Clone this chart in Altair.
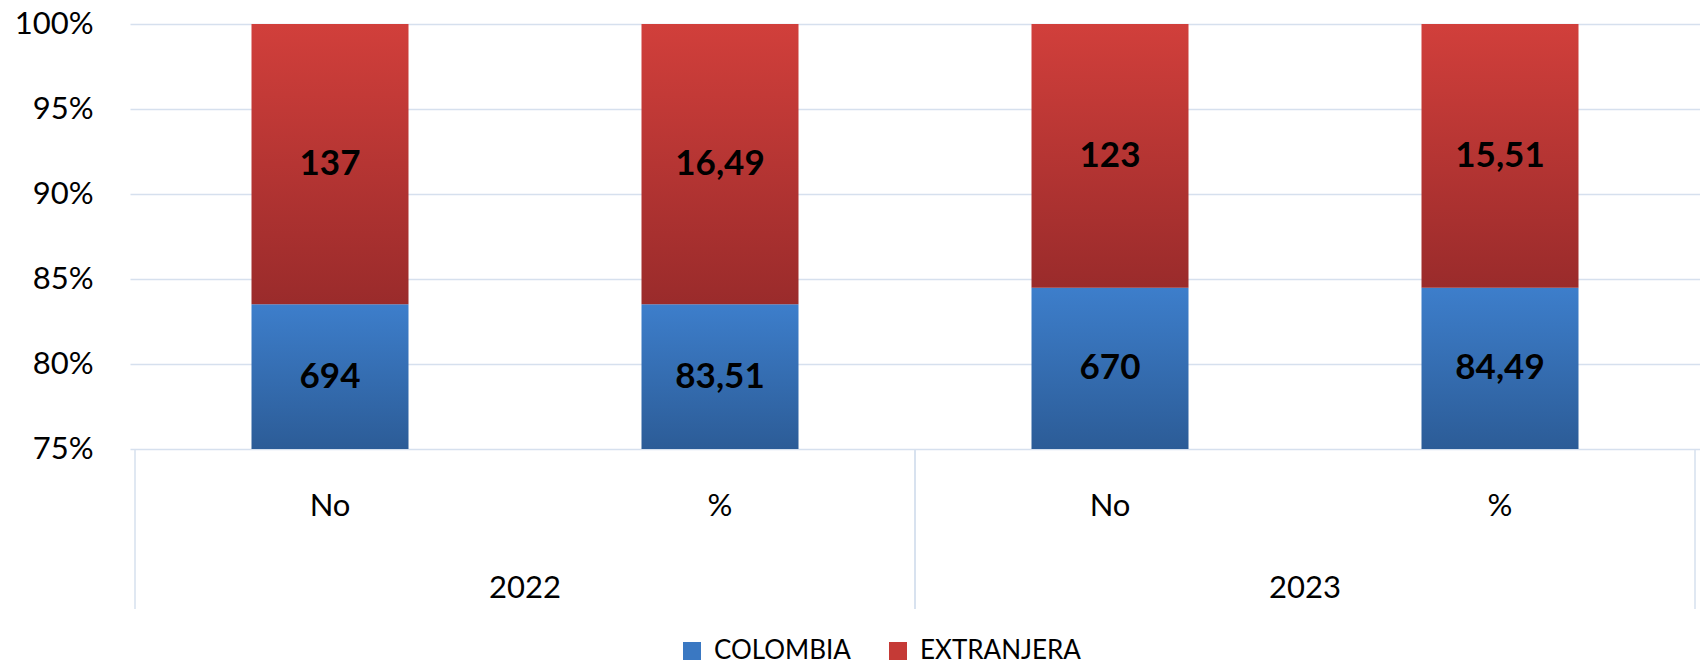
import altair as alt
import pandas as pd

years = ["2022", "2022", "2023", "2023"]
measures = ["No", "%", "No", "%"]
colombia = [694, 83.51, 670, 84.49]
extranjera = [137, 16.49, 123, 15.51]
series_names = ["COLOMBIA", "EXTRANJERA"]
y_ticks = [75, 80, 85, 90, 95, 100]

df = pd.DataFrame({"year": years, "measure": measures,
                   "colombia": colombia, "extranjera": extranjera})

FONT = "Lato"
GRID = "#D6E0EE"
BLUE_TOP, BLUE_BOT = "#3D7ECB", "#2C5C97"
RED_TOP, RED_BOT = "#D13F3B", "#9A2B2B"

n = len(years)
xscale = alt.Scale(domain=[0, n], nice=False, zero=False)
yscale = alt.Scale(domain=[75, 100], nice=False, zero=False, clamp=True)

base = alt.Chart(df).transform_window(
    idx="row_number()"
).transform_calculate(
    center="datum.idx - 0.5",
    total="datum.colombia + datum.extranjera",
    pc="100 * datum.colombia / datum.total",
    yc="(75 + datum.pc) / 2",
    ye="(datum.pc + 100) / 2",
    lab_c="datum.measure == '%' ? replace(format(datum.colombia, '.2f'), '.', ',') : format(datum.colombia, 'd')",
    lab_e="datum.measure == '%' ? replace(format(datum.extranjera, '.2f'), '.', ',') : format(datum.extranjera, 'd')",
)

X = alt.X("center:Q", scale=xscale, axis=None)

def grad(top, bot):
    return alt.Gradient(gradient="linear", x1=0, x2=0, y1=0, y2=1,
                        stops=[alt.GradientStop(color=top, offset=0),
                               alt.GradientStop(color=bot, offset=1)])

yaxis = alt.Axis(values=y_ticks, labelExpr="datum.value + '%'", grid=True,
                 gridColor=GRID, gridWidth=1.5, domain=False, ticks=False,
                 labelFont=FONT, labelFontSize=31, labelColor="black",
                 labelPadding=37, minExtent=122, title=None)

bar_c = base.mark_bar(width=157, color=grad(BLUE_TOP, BLUE_BOT)).encode(
    x=X, y=alt.Y("pc:Q", scale=yscale, axis=yaxis), y2=alt.datum(0))
bar_e = base.mark_bar(width=157, color=grad(RED_TOP, RED_BOT)).encode(
    x=X, y=alt.Y("pc:Q", scale=yscale), y2=alt.datum(100))

txt_c = base.mark_text(font=FONT, fontSize=35, fontWeight="bold", color="black",
                       baseline="middle").encode(
    x=X, y=alt.Y("yc:Q", scale=yscale), text="lab_c:N")
txt_e = base.mark_text(font=FONT, fontSize=35, fontWeight="bold", color="black",
                       baseline="middle").encode(
    x=X, y=alt.Y("ye:Q", scale=yscale), text="lab_e:N")

sub = base.mark_text(font=FONT, fontSize=31, color="black", baseline="middle").encode(
    x=X, y=alt.value(483), text="measure:N")

yrs = base.transform_aggregate(
    c="mean(center)", groupby=["year"]
).mark_text(font=FONT, fontSize=31, color="black", baseline="middle").encode(
    x=alt.X("c:Q", scale=xscale, axis=None), y=alt.value(565), text="year:N")

seps = base.transform_aggregate(
    lo="min(idx)", hi="max(idx)", groupby=["year"]
).transform_calculate(
    lo="datum.lo - 1"
).transform_fold(["lo", "hi"], as_=["k", "b"]).mark_rule(
    color=GRID, strokeWidth=1.5).encode(
    x=alt.X("b:Q", scale=xscale, axis=None), y=alt.value(425), y2=alt.value(585))

legend_layer = base.transform_fold(
    ["colombia", "extranjera"], as_=["s", "v"]
).transform_calculate(series="upper(datum.s)").mark_square(opacity=0).encode(
    x=X, y=alt.value(0),
    color=alt.Color("series:N",
                    scale=alt.Scale(domain=series_names, range=["#3A78C2", "#C53A36"]),
                    legend=alt.Legend(title=None, orient="none", legendX=549, legendY=614,
                                      direction="horizontal", symbolType="square",
                                      symbolSize=324, symbolOpacity=1, symbolStrokeWidth=0,
                                      labelFont=FONT, labelFontSize=26, labelColor="black",
                                      labelLimit=0, columnPadding=34, labelOffset=9)))

chart = alt.layer(seps, bar_c, bar_e, txt_c, txt_e, sub, yrs, legend_layer).properties(
    width=1570, height=425,
    padding={"left": 0, "right": 0, "top": 0, "bottom": 0}
).configure_view(stroke=None)

chart.save("out.html", embed_options={"renderer": "svg", "actions": False})
